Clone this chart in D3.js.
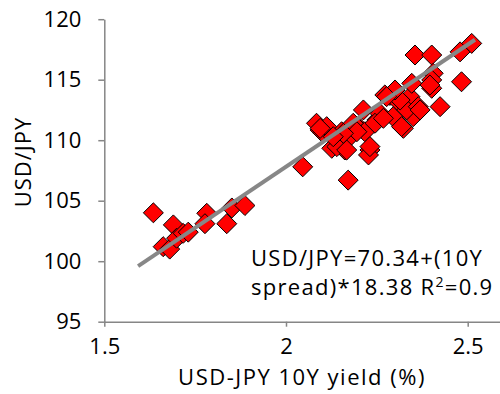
<!DOCTYPE html>
<html>
<head>
<meta charset="utf-8">
<script src="https://cdn.jsdelivr.net/npm/d3@7"></script>
<style>
  body { margin: 0; background: #fff; }
  svg text { font-family: "Open Sans", Lato, sans-serif; fill: #000; }
</style>
</head>
<body>
<div id="chart"></div>
<script>
// 10Y yield spread (%) vs USD/JPY
let spread = [1.635, 1.690, 1.662, 1.680, 1.699, 1.717, 1.731, 1.782, 1.777, 1.837, 1.851, 1.887,
    2.046, 2.171, 2.084, 2.094, 2.103, 2.126, 2.162, 2.149, 2.231, 2.227, 2.153, 2.176,
    2.199, 2.217, 2.213, 2.250, 2.259, 2.286, 2.305, 2.341, 2.323, 2.245, 2.295, 2.350,
    2.332, 2.112, 2.355, 2.401, 2.479, 2.511, 2.483, 2.405, 2.401, 2.401, 2.346, 2.424,
    2.364, 2.314, 2.300, 2.272, 2.268, 2.318, 2.140, 2.167, 2.231, 2.277, 2.369, 2.396,
    2.185, 2.195, 2.158, 2.130, 2.094];
let usdjpy = [104.0, 103.0, 101.2, 101.0, 101.9, 102.3, 102.4, 103.96, 103.1, 103.1, 104.4, 104.6,
    107.8, 106.7, 111.4, 110.84, 110.57, 109.33, 109.19, 109.74, 109.19, 108.78, 110.7, 110.29,
    111.12, 110.7, 112.5, 111.67, 112.2, 113.7, 113.3, 113.6, 110.98, 111.4, 111.94, 111.94,
    112.5, 111.12, 117.04, 117.04, 117.3, 118.0, 114.83, 115.53, 114.98, 114.29, 114.7, 112.77,
    112.77, 113.32, 114.15, 113.74, 111.81, 111.12, 109.47, 109.19, 109.47, 113.6, 112.5, 114.56,
    111.4, 110.7, 110.57, 110.29, 110.98];

// fitted line as drawn (end points)
let trendX = [1.593, 2.52];
let trendY = [99.6, 118.3];

let xTicks = [1.5, 2, 2.5];
let yTicks = [95, 100, 105, 110, 115, 120];

let labelLines = ["USD/JPY=70.34+(10Y", "spread)*18.38 R"];

let width = 500, height = 394;
let margin = { top: 19.2, left: 104.3, bottom: 394 - 321.7 };

let svg = d3.select("#chart").append("svg")
    .attr("width", width)
    .attr("height", height);

let x = d3.scaleLinear()
    .domain([1.5, 2.6])
    .range([margin.left, margin.left + 1.1 * 363.4]);

let y = d3.scaleLinear()
    .domain([95, 120])
    .range([height - margin.bottom, margin.top]);

// axes
let xAxis = d3.axisBottom(x).tickValues(xTicks).tickSize(5).tickSizeOuter(0)
    .tickFormat(d3.format("~g"));
let yAxis = d3.axisLeft(y).tickValues(yTicks).tickSize(6).tickSizeOuter(0);

let gx = svg.append("g")
    .attr("transform", "translate(0," + y(95) + ")")
    .call(xAxis);
let gy = svg.append("g")
    .attr("transform", "translate(" + x(1.5) + ",0)")
    .call(yAxis);

[gx, gy].forEach(g => {
    g.select(".domain").attr("stroke", "#868686").attr("stroke-width", 1.5);
    g.selectAll(".tick line").attr("stroke", "#868686").attr("stroke-width", 1.5);
    g.selectAll(".tick text").style("font-size", "22px").attr("fill", "#000");
});
gx.selectAll(".tick text").attr("dy", "0.71em").attr("y", 17);
gy.selectAll(".tick text").attr("x", -23);

// points
let pts = spread.map((d, i) => ({ x: d, y: usdjpy[i] }));
let diamond = d3.symbol().type({
    draw: function(ctx, size) {
        let r = Math.sqrt(size) / 1.414;
        ctx.moveTo(0, -r); ctx.lineTo(r, 0); ctx.lineTo(0, r); ctx.lineTo(-r, 0); ctx.closePath();
    }
}).size(200);

svg.append("g").selectAll("path.pt")
    .data(pts)
    .enter()
    .append("path")
    .attr("class", "pt")
    .attr("transform", d => "translate(" + x(d.x) + "," + y(d.y) + ")")
    .attr("d", diamond)
    .attr("fill", "#ff0000")
    .attr("stroke", "#000")
    .attr("stroke-width", 1);

// trend line
svg.append("line")
    .attr("x1", x(trendX[0])).attr("y1", y(trendY[0]))
    .attr("x2", x(trendX[1])).attr("y2", y(trendY[1]))
    .attr("stroke", "#878787")
    .attr("stroke-width", 4);

// equation label
let lab = svg.append("text")
    .style("font-size", "22px")
    .style("letter-spacing", "1.3px");
lab.append("tspan").attr("x", 251).attr("y", 266).text(labelLines[0]);
lab.append("tspan").attr("x", 251).attr("y", 295).text(labelLines[1]);
lab.append("tspan").attr("dy", -8).style("font-size", "14px").text("2");
lab.append("tspan").attr("dy", 8).text("=0.9");

// axis titles
svg.append("text")
    .attr("x", 302)
    .attr("y", 385)
    .attr("text-anchor", "middle")
    .style("font-size", "22px")
    .style("letter-spacing", "1.5px")
    .text("USD-JPY 10Y yield (%)");

svg.append("text")
    .attr("transform", "translate(31,162) rotate(-90)")
    .attr("text-anchor", "middle")
    .style("font-size", "22px")
    .style("letter-spacing", "1px")
    .text("USD/JPY");
</script>
</body>
</html>
